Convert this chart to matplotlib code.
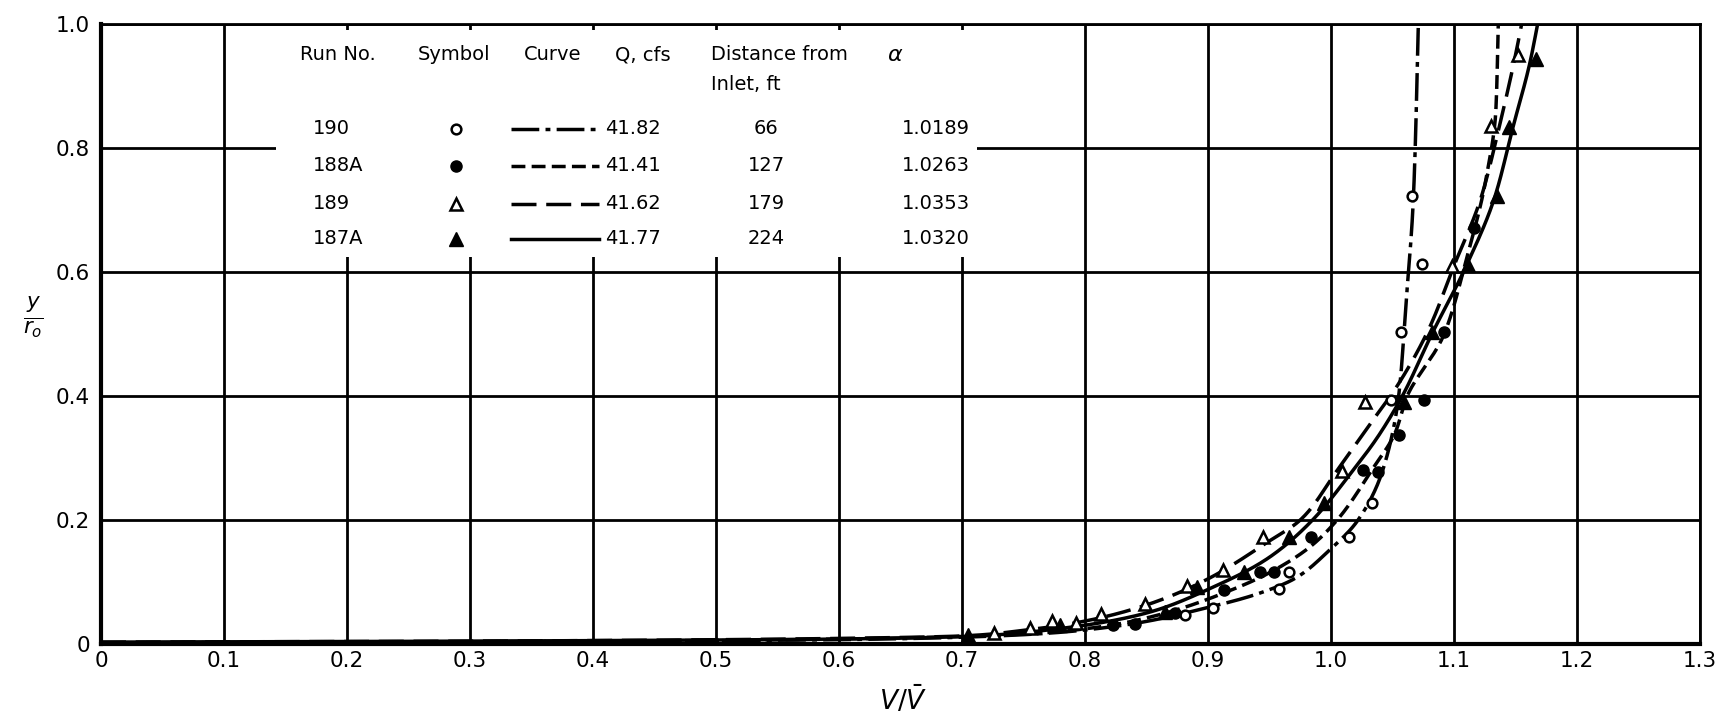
import numpy as np
import matplotlib
matplotlib.use("Agg")
import matplotlib.pyplot as plt
from matplotlib.patches import Rectangle
from matplotlib.lines import Line2D

plt.rcParams['font.family'] = ['DejaVu Sans']
plt.rcParams['mathtext.fontset'] = 'dejavusans'
plt.rcParams['lines.scale_dashes'] = False

# ---- measured points (V/Vbar, y/r0) ----
run190_v = [0.881, 0.904, 0.958, 0.966, 1.015, 1.033, 1.049, 1.057, 1.074, 1.066]
run190_y = [0.047, 0.058, 0.089, 0.116, 0.172, 0.227, 0.393, 0.503, 0.613, 0.723]

run188a_v = [0.823, 0.841, 0.873, 0.913, 0.942, 0.954, 0.984, 1.026, 1.038, 1.055, 1.076, 1.092, 1.116]
run188a_y = [0.031, 0.032, 0.050, 0.087, 0.116, 0.116, 0.172, 0.280, 0.278, 0.337, 0.393, 0.504, 0.671]

run189_v = [0.726, 0.755, 0.773, 0.793, 0.813, 0.849, 0.883, 0.912, 0.945, 1.009, 1.028, 1.098, 1.130, 1.152]
run189_y = [0.018, 0.026, 0.037, 0.034, 0.048, 0.064, 0.093, 0.119, 0.172, 0.279, 0.390, 0.610, 0.836, 0.950]

run187a_v = [0.705, 0.780, 0.865, 0.891, 0.929, 0.966, 0.994, 1.059, 1.082, 1.111, 1.135, 1.145, 1.167]
run187a_y = [0.015, 0.031, 0.052, 0.092, 0.116, 0.172, 0.227, 0.391, 0.504, 0.612, 0.722, 0.834, 0.943]

# ---- faired velocity-profile curves (nodes along each curve) ----
curve190_v = [0.0, 0.35, 0.6, 0.75, 0.83, 0.894, 0.942, 0.97, 0.998, 1.022, 1.042, 1.055, 1.061, 1.067, 1.071]
curve190_y = [0.002, 0.004, 0.007, 0.015, 0.03, 0.056, 0.082, 0.105, 0.15, 0.20, 0.28, 0.40, 0.55, 0.72, 1.0]

curve188a_v = [0.0, 0.35, 0.6, 0.75, 0.82, 0.86, 0.91, 0.95, 0.985, 1.005, 1.033, 1.052, 1.062, 1.092, 1.11, 1.126, 1.134, 1.136]
curve188a_y = [0.002, 0.004, 0.008, 0.016, 0.03, 0.047, 0.08, 0.115, 0.16, 0.20, 0.28, 0.34, 0.40, 0.50, 0.62, 0.75, 0.86, 1.0]

curve189_v = [0.0, 0.35, 0.6, 0.7, 0.75, 0.8, 0.85, 0.9, 0.945, 0.975, 1.005, 1.03, 1.055, 1.08, 1.10, 1.122, 1.137, 1.150, 1.155]
curve189_y = [0.003, 0.005, 0.009, 0.013, 0.022, 0.037, 0.063, 0.105, 0.16, 0.20, 0.28, 0.35, 0.42, 0.51, 0.61, 0.72, 0.836, 0.95, 1.0]

curve187a_v = [0.0, 0.35, 0.6, 0.7, 0.78, 0.85, 0.9, 0.95, 0.985, 1.014, 1.04, 1.058, 1.082, 1.11, 1.133, 1.148, 1.162, 1.168]
curve187a_y = [0.003, 0.005, 0.008, 0.012, 0.025, 0.05, 0.088, 0.14, 0.20, 0.27, 0.34, 0.40, 0.50, 0.61, 0.72, 0.834, 0.94, 1.0]

# ---- table of runs ----
run_no = ["190", "188A", "189", "187A"]
q_cfs = ["41.82", "41.41", "41.62", "41.77"]
distance_ft = ["66", "127", "179", "224"]
alpha = ["1.0189", "1.0263", "1.0353", "1.0320"]

x_ticks = [0, 0.1, 0.2, 0.3, 0.4, 0.5, 0.6, 0.7, 0.8, 0.9, 1.0, 1.1, 1.2, 1.3]
x_tick_labels = ["0", "0.1", "0.2", "0.3", "0.4", "0.5", "0.6", "0.7", "0.8", "0.9", "1.0", "1.1", "1.2", "1.3"]
y_ticks = [0, 0.2, 0.4, 0.6, 0.8, 1.0]
y_tick_labels = ["0", "0.2", "0.4", "0.6", "0.8", "1.0"]


def pchip(x, y, xn):
    x = np.asarray(x, float)
    y = np.asarray(y, float)
    h = np.diff(x)
    d = np.diff(y) / h
    m = np.zeros_like(y)
    m[0], m[-1] = d[0], d[-1]
    for k in range(1, len(x) - 1):
        if d[k - 1] * d[k] > 0:
            w1 = 2 * h[k] + h[k - 1]
            w2 = h[k] + 2 * h[k - 1]
            m[k] = (w1 + w2) / (w1 / d[k - 1] + w2 / d[k])
    idx = np.clip(np.searchsorted(x, xn) - 1, 0, len(x) - 2)
    t = (xn - x[idx]) / h[idx]
    h00 = 2 * t**3 - 3 * t**2 + 1
    h10 = t**3 - 2 * t**2 + t
    h01 = -2 * t**3 + 3 * t**2
    h11 = t**3 - t**2
    return h00 * y[idx] + h10 * h[idx] * m[idx] + h01 * y[idx + 1] + h11 * h[idx] * m[idx + 1]


def faired(v_nodes, y_nodes):
    s = np.log(np.asarray(y_nodes, float))
    ss = np.linspace(s[0], s[-1], 600)
    return pchip(s, v_nodes, ss), np.exp(ss)


W, H = 1716, 720
fig = plt.figure(figsize=(W / 100, H / 100), dpi=100)
ax = fig.add_axes([101 / W, 1 - 644 / H, (1700 - 101) / W, (644 - 24) / H])
ax.set_xlim(0, 1.3)
ax.set_ylim(0, 1.0)

ink = "black"
grid_lw = 2.0

for xv in x_ticks[1:]:
    ax.axvline(xv, color=ink, lw=grid_lw, zorder=1)
for yv in y_ticks[1:]:
    ax.axhline(yv, color=ink, lw=grid_lw, zorder=1)

# blank panel behind the run table
ax.add_patch(Rectangle((0.142, 0.625), 0.712 - 0.142, 0.99 - 0.625,
                       facecolor="white", edgecolor="none", zorder=2))

styles = {
    "190": dict(dashes=(20, 4.5, 3.5, 4.5)),
    "188A": dict(dashes=(10, 4.5)),
    "189": dict(dashes=(18, 7)),
    "187A": dict(linestyle="-"),
}
markers = {
    "190": dict(marker="o", ms=7, mfc="white", mec=ink, mew=1.8),
    "188A": dict(marker="o", ms=8, mfc=ink, mec=ink, mew=1.0),
    "189": dict(marker="^", ms=8.5, mfc="white", mec=ink, mew=1.8),
    "187A": dict(marker="^", ms=10, mfc=ink, mec=ink, mew=1.0),
}

curves = [(curve190_v, curve190_y), (curve188a_v, curve188a_y),
          (curve189_v, curve189_y), (curve187a_v, curve187a_y)]
points = [(run190_v, run190_y), (run188a_v, run188a_y),
          (run189_v, run189_y), (run187a_v, run187a_y)]

for name, (cv, cy), (pv, py) in zip(run_no, curves, points):
    fv, fy = faired(cv, cy)
    ax.plot(fv, fy, color=ink, lw=2.5, solid_capstyle="butt",
            zorder=3, clip_on=True, **styles[name])
    ax.plot(pv, py, linestyle="none", zorder=4, clip_on=False, **markers[name])

# run table
fs = 14
hdr_y = 0.950
ax.text(0.162, hdr_y, "Run No.", fontsize=fs, va="center", ha="left", zorder=5)
ax.text(0.287, hdr_y, "Symbol", fontsize=fs, va="center", ha="center", zorder=5)
ax.text(0.367, hdr_y, "Curve", fontsize=fs, va="center", ha="center", zorder=5)
ax.text(0.418, hdr_y, "Q, cfs", fontsize=fs, va="center", ha="left", zorder=5)
ax.text(0.496, hdr_y, "Distance from", fontsize=fs, va="center", ha="left", zorder=5)
ax.text(0.496, 0.902, "Inlet, ft", fontsize=fs, va="center", ha="left", zorder=5)
ax.text(0.646, hdr_y, r"$\alpha$", fontsize=fs + 2, va="center", ha="center", zorder=5)

row_y = [0.831, 0.771, 0.710, 0.654]
for i, name in enumerate(run_no):
    yy = row_y[i]
    ax.text(0.172, yy, name, fontsize=fs, va="center", ha="left", zorder=5)
    ax.plot([0.289], [yy], linestyle="none", zorder=5, **markers[name])
    ax.add_line(Line2D([0.333, 0.405], [yy, yy], color=ink, lw=2.5, zorder=5,
                       **styles[name]))
    ax.text(0.410, yy, q_cfs[i], fontsize=fs, va="center", ha="left", zorder=5)
    ax.text(0.541, yy, distance_ft[i], fontsize=fs, va="center", ha="center", zorder=5)
    ax.text(0.651, yy, alpha[i], fontsize=fs, va="center", ha="left", zorder=5)

# frame
for side in ("left", "bottom"):
    ax.spines[side].set_linewidth(3.0)
for side in ("top", "right"):
    ax.spines[side].set_linewidth(grid_lw)
for sp in ax.spines.values():
    sp.set_zorder(6)

ax.set_xticks(x_ticks)
ax.set_xticklabels(x_tick_labels, fontsize=15.5)
ax.set_yticks(y_ticks)
ax.set_yticklabels(y_tick_labels, fontsize=15.5)
ax.tick_params(length=0, pad=8)
ax.tick_params(axis="x", pad=5)

fig.text(903 / W, 1 - 700 / H, r"$V/\bar{V}$", fontsize=19, ha="center", va="center")
fig.text(33 / W, 1 - 317 / H, r"$\frac{y}{r_o}$", fontsize=22, ha="center", va="center")

fig.savefig("out.png", dpi=100, facecolor="white")
